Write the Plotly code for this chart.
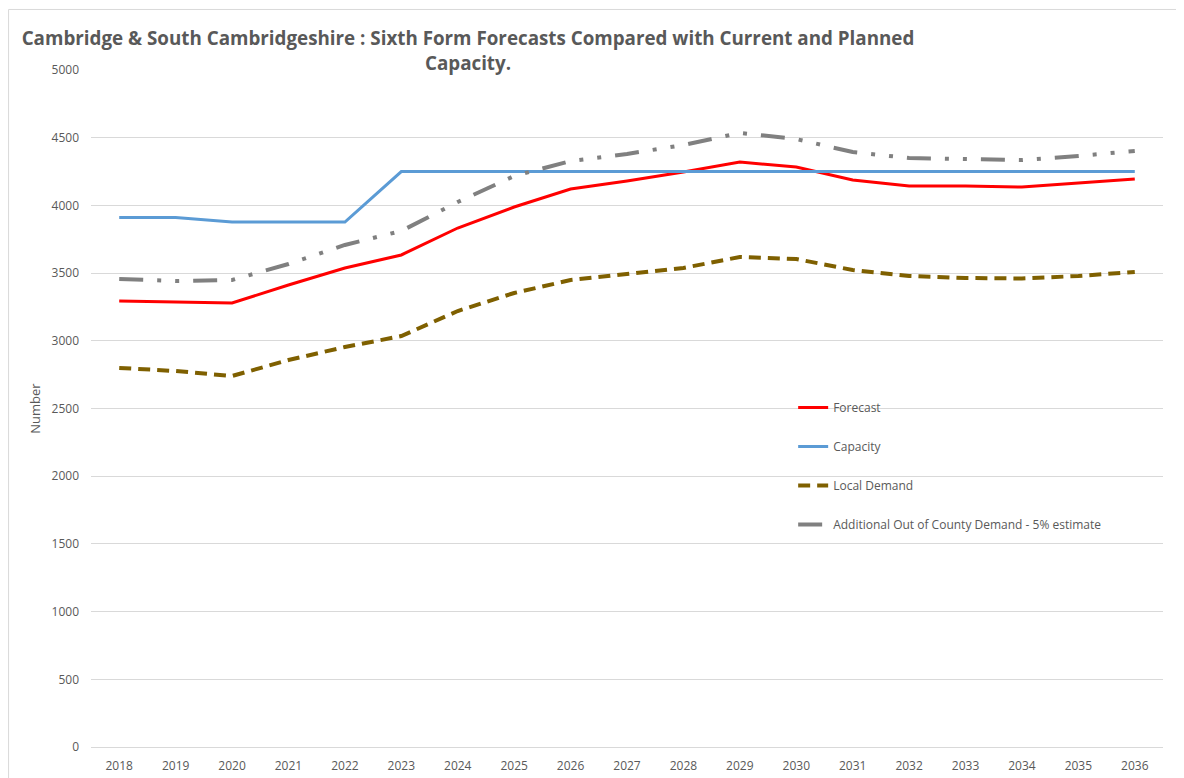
import plotly.graph_objects as go

years = [str(y) for y in range(2018, 2037)]
forecast = [3294, 3285, 3279, 3412, 3538, 3634, 3833, 3988, 4121, 4180, 4247, 4320, 4283, 4188, 4143, 4143, 4136, 4165, 4195]
capacity = [3911, 3911, 3877, 3877, 3877, 4250, 4250, 4250, 4250, 4250, 4250, 4250, 4250, 4250, 4250, 4250, 4250, 4250, 4250]
local_demand = [2800, 2777, 2740, 2858, 2954, 3035, 3220, 3353, 3449, 3493, 3538, 3619, 3604, 3523, 3479, 3464, 3460, 3479, 3508]
out_county = [3456, 3442, 3449, 3567, 3708, 3811, 4025, 4217, 4328, 4380, 4446, 4535, 4490, 4394, 4350, 4343, 4335, 4365, 4402]

fig = go.Figure()
fig.add_trace(go.Scatter(x=years, y=forecast, name="Forecast", mode="lines",
                         line=dict(color="#FF0000", width=3), legendgroup="a"))
fig.add_trace(go.Scatter(x=years, y=capacity, name="Capacity", mode="lines",
                         line=dict(color="#5B9BD5", width=3), legendgroup="b"))
fig.add_trace(go.Scatter(x=years, y=local_demand, name="Local Demand", mode="lines",
                         line=dict(color="#7F6000", width=4, dash="12px,7px"), legendgroup="c"))
fig.add_trace(go.Scatter(x=years, y=out_county, name="Additional Out of County Demand - 5% estimate", mode="lines",
                         line=dict(color="#808080", width=4, dash="24px,14px,4px,14px,4px,14px"), legendgroup="d"))

fig.update_layout(
    width=1184, height=778,
    paper_bgcolor="white", plot_bgcolor="white",
    margin=dict(l=83, r=29, t=62, b=39, autoexpand=False),
    font=dict(family="Open Sans, sans-serif", size=12, color="#595959"),
    title=dict(text="<b>Cambridge & South Cambridgeshire : Sixth Form Forecasts Compared with Current and Planned<br>Capacity.</b>",
               x=460 / 1184, xanchor="center", y=0.952, yanchor="top",
               font=dict(family="Open Sans, sans-serif", size=18.8, color="#595959")),
    xaxis=dict(type="category", range=[-0.5, 18.5], showgrid=False, showline=True,
               linecolor="#D9D9D9", linewidth=1, ticks="", ticklabelstandoff=8,
               tickfont=dict(size=12, color="#595959")),
    yaxis=dict(range=[0, 5000], dtick=500, showgrid=True, gridcolor="#D9D9D9", gridwidth=1,
               zeroline=False, showline=False, ticks="", ticklabelstandoff=11,
               tickfont=dict(size=12, color="#595959"),
               title=dict(text="Number", font=dict(size=13, color="#595959"), standoff=7)),
    legend=dict(x=0.655, y=0.523, xanchor="left", yanchor="top", bgcolor="rgba(0,0,0,0)",
                tracegroupgap=20, font=dict(size=12, color="#595959")),
    showlegend=True,
)

fig.add_shape(type="line", xref="paper", yref="paper", x0=-0.0769, x1=-0.0769, y0=-0.2, y1=1.0894,
              line=dict(color="#D9D9D9", width=1), layer="below")
fig.add_shape(type="line", xref="paper", yref="paper", x0=-0.0769, x1=1.5, y0=1.0894, y1=1.0894,
              line=dict(color="#D9D9D9", width=1), layer="below")

fig.write_html("out.html")
